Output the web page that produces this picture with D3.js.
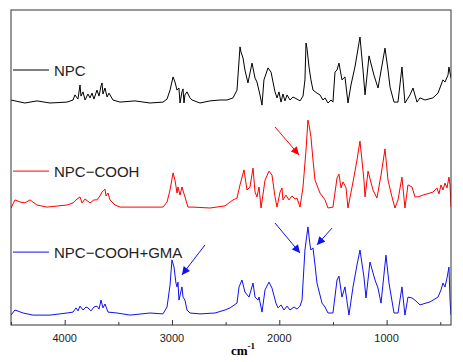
<!DOCTYPE html>
<html>
<head>
<meta charset="utf-8">
<script src="https://cdn.jsdelivr.net/npm/d3@7"></script>
<style>
  body { margin: 0; background: #fff; }
  svg { display: block; }
</style>
</head>
<body>
<svg id="chart" width="463" height="362"></svg>
<script>
// wavenumber (cm-1), intensity (a.u., traces already stacked)
var npc = [
  [4500,75.0],[4463,74.7],[4370,74.0],[4258,74.7],[4137,74.0],[3978,74.3],[3922,75.0],
  [3904,76.7],[3876,75.3],[3857,80.0],[3848,76.3],[3829,77.7],[3810,75.0],[3783,77.0],
  [3764,75.7],[3745,77.3],[3727,75.3],[3699,78.3],[3680,76.3],[3661,79.7],[3652,80.7],
  [3643,77.0],[3624,79.0],[3605,76.0],[3587,77.3],[3550,75.0],[3484,74.3],[3345,74.7],
  [3205,74.0],[3084,74.3],[3046,75.3],[3018,78.3],[2990,82.7],[2972,81.0],[2953,78.3],
  [2935,79.0],[2925,74.0],[2907,77.7],[2897,78.7],[2888,74.0],[2879,76.7],[2860,77.7],
  [2832,75.7],[2813,75.0],[2739,74.0],[2646,74.7],[2553,75.0],[2487,75.0],[2431,75.7],
  [2394,78.3],[2366,92.7],[2357,91.0],[2338,89.0],[2320,85.0],[2292,80.7],[2254,87.3],
  [2226,82.3],[2208,81.0],[2180,76.7],[2161,73.3],[2143,81.7],[2105,85.7],[2077,84.3],
  [2040,77.7],[2021,75.7],[2003,77.7],[1984,74.3],[1966,77.0],[1947,74.7],[1928,76.7],
  [1900,75.0],[1872,76.0],[1835,75.3],[1807,74.7],[1779,76.3],[1761,81.7],[1751,94.0],
  [1742,92.3],[1723,86.0],[1705,81.7],[1686,78.3],[1649,77.3],[1621,76.7],[1593,75.0],
  [1574,75.7],[1546,74.0],[1518,75.0],[1500,74.3],[1481,84.3],[1462,85.0],[1444,87.3],
  [1416,81.7],[1388,82.7],[1360,74.0],[1332,80.0],[1295,86.0],[1248,96.0],[1220,85.0],
  [1201,76.7],[1164,89.7],[1118,83.3],[1080,79.0],[1015,92.3],[987,85.0],[968,79.3],
  [931,74.3],[894,74.3],[857,86.0],[829,74.0],[782,76.7],[754,79.0],[717,74.3],
  [689,75.7],[642,75.0],[568,75.7],[521,77.3],[475,81.7],[456,81.0],[428,83.3],
  [419,86.0],[400,82.3]
];

var npcCooh = [
  [4500,39.0],[4463,41.7],[4416,41.0],[4370,40.7],[4323,41.7],[4258,40.0],[4165,39.3],
  [3978,40.0],[3922,40.7],[3894,41.7],[3857,42.7],[3838,40.7],[3810,42.0],[3764,40.7],
  [3727,41.7],[3699,41.7],[3671,43.0],[3652,44.3],[3624,45.3],[3615,43.0],[3596,44.0],
  [3578,41.7],[3531,40.0],[3484,39.3],[3298,39.3],[3084,39.3],[3046,41.0],[3018,45.0],
  [2990,50.7],[2972,48.3],[2953,44.0],[2944,46.0],[2925,43.3],[2907,46.0],[2879,42.7],
  [2851,39.3],[2804,39.3],[2646,39.0],[2506,39.7],[2431,41.7],[2394,42.3],[2366,46.7],
  [2329,51.7],[2301,45.0],[2273,46.0],[2245,52.3],[2226,44.3],[2208,42.7],[2189,46.0],
  [2170,39.0],[2133,48.3],[2096,51.3],[2068,50.0],[2040,42.7],[2021,39.3],[1993,44.3],
  [1975,45.7],[1966,41.7],[1938,43.3],[1910,41.7],[1882,43.0],[1854,42.0],[1835,42.3],
  [1807,39.3],[1779,46.0],[1751,58.3],[1733,68.3],[1723,66.7],[1705,62.7],[1686,55.0],
  [1667,48.3],[1621,44.0],[1574,41.7],[1546,39.0],[1500,39.3],[1462,49.0],[1444,50.3],
  [1425,45.7],[1406,47.7],[1378,45.7],[1360,39.0],[1313,47.7],[1276,55.0],[1248,61.3],
  [1211,48.3],[1201,42.7],[1173,51.3],[1127,45.0],[1090,42.3],[1052,50.0],[1015,58.7],
  [987,48.3],[950,42.7],[922,39.0],[894,41.7],[857,49.3],[829,39.0],[801,46.7],
  [763,46.0],[736,42.7],[708,42.7],[661,43.3],[568,44.3],[531,45.7],[512,43.7],
  [493,46.7],[475,45.0],[456,47.3],[437,45.7],[419,49.3],[409,46.7],[400,39.3]
];

var npcCoohGma = [
  [4500,3.3],[4463,5.0],[4388,4.0],[4295,3.3],[4137,3.3],[3978,4.0],[3922,4.3],
  [3894,5.7],[3876,4.7],[3857,6.3],[3829,5.0],[3801,6.0],[3783,5.7],[3755,4.7],
  [3727,6.0],[3699,6.3],[3680,5.3],[3661,8.3],[3643,5.7],[3624,7.0],[3596,4.3],
  [3512,4.0],[3391,3.3],[3205,4.0],[3084,3.7],[3046,6.0],[3018,13.3],[3000,21.7],
  [2981,19.3],[2963,14.0],[2953,12.7],[2944,14.3],[2935,8.3],[2907,12.7],[2897,9.3],
  [2879,8.3],[2860,5.0],[2832,4.0],[2739,3.7],[2599,4.0],[2506,5.0],[2459,5.7],
  [2394,7.3],[2375,12.7],[2348,15.0],[2320,11.0],[2282,9.3],[2245,14.0],[2226,9.3],
  [2198,8.3],[2189,9.3],[2161,4.3],[2133,11.7],[2096,14.3],[2068,12.3],[2031,7.3],
  [2012,5.7],[1984,6.7],[1956,5.0],[1928,6.3],[1900,5.0],[1863,6.0],[1835,5.3],
  [1807,6.3],[1788,8.3],[1761,25.0],[1733,32.7],[1714,26.7],[1705,25.0],[1686,25.7],
  [1667,20.0],[1649,14.0],[1602,7.3],[1574,6.0],[1546,4.0],[1500,4.0],[1462,15.0],
  [1444,16.3],[1416,9.3],[1388,12.7],[1351,3.3],[1313,12.7],[1276,20.0],[1248,25.0],
  [1211,16.0],[1192,9.0],[1155,21.0],[1108,15.0],[1080,12.3],[1052,7.3],[1006,23.3],
  [978,14.0],[931,4.0],[894,4.0],[857,12.7],[829,3.3],[801,9.3],[763,9.0],[736,8.3],
  [689,6.7],[596,7.7],[521,9.3],[493,11.7],[475,14.0],[456,12.7],[437,15.7],[419,19.3],
  [409,8.3],[400,3.3]
];

var seriesNames = ["NPC", "NPC\u2212COOH", "NPC\u2212COOH+GMA"]
var seriesColors = ["#000000", "#ff0000", "#1010f0"]
var legendLevels = [85, 51.3, 24.3]

var majorTicks = [4000, 3000, 2000, 1000]
var minorTicks = [4500, 3500, 2500, 1500, 500]

// arrows: [tailWn, tailVal, headWn, headVal, series]
var arrows = [
  [2040, 66, 1816, 56.7, 1],
  [2692, 26.7, 2907, 16.7, 2],
  [2040, 34, 1807, 24, 2],
  [1509, 32.3, 1649, 26.7, 2]
]

var svg = d3.select("#chart")
var pLeft = 11, pTop = 10, pRight = 451, pBottom = 325

var x = d3.scaleLinear().domain([4500, 400]).range([pLeft, pRight])
var y = d3.scaleLinear().domain([0, 105]).range([pBottom, pTop])

var defs = svg.append("defs")
seriesColors.forEach(function(c, i) {
    defs.append("marker")
        .attr("id", "head" + i)
        .attr("viewBox", "0 0 10 10")
        .attr("refX", 10).attr("refY", 5)
        .attr("markerWidth", 9).attr("markerHeight", 8)
        .attr("markerUnits", "userSpaceOnUse")
        .attr("orient", "auto")
        .append("path")
        .attr("d", "M0,0 L10,5 L0,10 Z")
        .style("fill", c)
})

defs.append("clipPath").attr("id", "plotclip")
    .append("rect").attr("x", pLeft).attr("y", pTop)
    .attr("width", pRight - pLeft).attr("height", pBottom - pTop)

var line = d3.line()
    .x(function(d) { return x(d[0]) })
    .y(function(d) { return y(d[1]) })

var allSeries = [npc, npcCooh, npcCoohGma]

allSeries.forEach(function(s, i) {
    svg.append("path")
        .datum(s)
        .attr("clip-path", "url(#plotclip)")
        .attr("d", line)
        .style("fill", "none")
        .style("stroke", seriesColors[i])
        .style("stroke-width", 1)
        .style("stroke-linejoin", "round")
})

// legends
seriesNames.forEach(function(n, i) {
    var ly = y(legendLevels[i])
    svg.append("line")
        .attr("x1", 13).attr("x2", 49)
        .attr("y1", ly).attr("y2", ly)
        .style("stroke", seriesColors[i])
        .style("stroke-width", 1)
    svg.append("text")
        .attr("x", 54).attr("y", ly + 5.5)
        .style("font-family", "Liberation Sans, Arial, sans-serif")
        .style("font-size", "15px")
        .style("fill", "#222")
        .text(n)
})

arrows.forEach(function(a) {
    svg.append("line")
        .attr("x1", x(a[0])).attr("y1", y(a[1]))
        .attr("x2", x(a[2])).attr("y2", y(a[3]))
        .style("stroke", seriesColors[a[4]])
        .style("stroke-width", 1)
        .attr("marker-end", "url(#head" + a[4] + ")")
})

// frame
svg.append("rect")
    .attr("x", pLeft).attr("y", pTop)
    .attr("width", pRight - pLeft).attr("height", pBottom - pTop)
    .style("fill", "none")
    .style("stroke", "#333")
    .style("stroke-width", 1)

// inward ticks
var xAxis = d3.axisTop(x).tickValues(majorTicks).tickSize(5).tickFormat("")
svg.append("g").attr("transform", "translate(0," + pBottom + ")").call(xAxis)
    .call(function(g) { g.select(".domain").remove() })
var xMinor = d3.axisTop(x).tickValues(minorTicks).tickSize(3).tickFormat("")
svg.append("g").attr("transform", "translate(0," + pBottom + ")").call(xMinor)
    .call(function(g) { g.select(".domain").remove() })
svg.selectAll(".tick line").style("stroke", "#333")

svg.selectAll("text.ticklab")
    .data(majorTicks)
    .enter().append("text")
    .attr("class", "ticklab")
    .attr("x", function(d) { return x(d) })
    .attr("y", 342)
    .attr("text-anchor", "middle")
    .style("font-family", "Liberation Sans, Arial, sans-serif")
    .style("font-size", "11px")
    .style("fill", "#222")
    .text(function(d) { return d })

var xl = svg.append("text")
    .attr("x", 231).attr("y", 355)
    .style("font-family", "Liberation Serif, Times New Roman, serif")
    .style("font-weight", "bold")
    .style("font-size", "13px")
    .style("fill", "#000")
xl.append("tspan").text("cm")
xl.append("tspan").attr("dy", -6).style("font-size", "9px").text("-1")
</script>
</body>
</html>
